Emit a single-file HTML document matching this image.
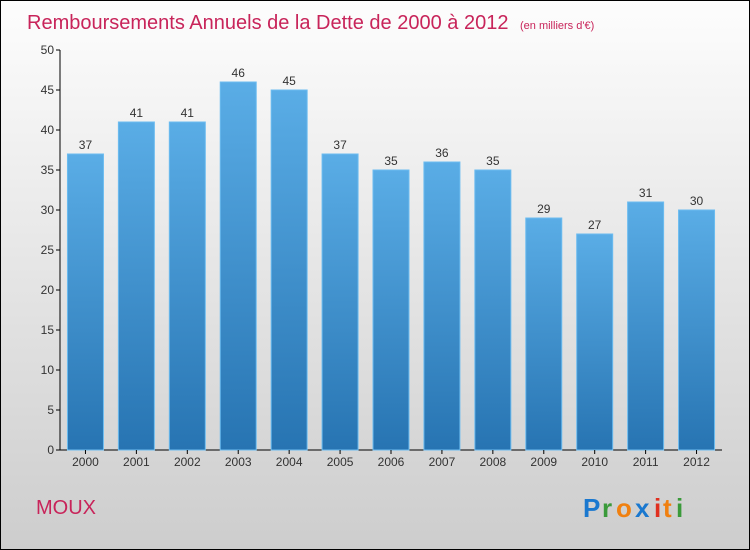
<!DOCTYPE html>
<html><head><meta charset="utf-8"><style>
html,body{margin:0;padding:0}
body{width:750px;height:550px;overflow:hidden;font-family:"Liberation Sans",sans-serif}
#wrap{position:absolute;left:0;top:0;width:748px;height:548px;border:1px solid #000;background:linear-gradient(#fdfdfd,#cdcdcd)}
</style></head><body>
<div id="wrap">
<svg width="750" height="550" style="position:absolute;left:-1px;top:-1px">
<defs><linearGradient id="bg" x1="0" y1="0" x2="0" y2="1"><stop offset="0" stop-color="#5aade6"/><stop offset="1" stop-color="#2774b2"/></linearGradient></defs>
<text x="27" y="29" font-size="20" fill="#c8245a">Remboursements Annuels de la Dette de 2000 à 2012 <tspan font-size="11" dx="6">(en milliers d'€)</tspan></text>
<g id="plot"></g>
<text x="36" y="514" font-size="20" fill="#c8245a">MOUX</text>
<g font-size="26" font-weight="bold">
<text x="583" y="517" fill="#1a78cf">P</text><text x="602" y="517" fill="#3a9a3a">r</text><text x="616" y="517" fill="#f08010">o</text><text x="635" y="517" fill="#1a78cf">x</text><text x="654" y="517" fill="#e03020">i</text><text x="663" y="517" fill="#f08010">t</text><text x="676" y="517" fill="#3a9a3a">i</text></g>
</svg></div>
<script>
const categories=["2000","2001","2002","2003","2004","2005","2006","2007","2008","2009","2010","2011","2012"];
const values=[37,41,41,46,45,37,35,36,35,29,27,31,30];
const yTicks=[0,5,10,15,20,25,30,35,40,45,50];
const NS="http://www.w3.org/2000/svg";
const g=document.getElementById('plot');
const x0=60,x1=722,yTop=50,yBot=450,yMax=50;
const y=v=>yBot-(v/yMax)*(yBot-yTop);
const step=(x1-x0)/categories.length;
const xc=i=>x0+step*(i+0.5);
function mk(t,a){const e=document.createElementNS(NS,t);for(const k in a)e.setAttribute(k,a[k]);g.appendChild(e);return e;}
let ax=mk('line',{x1:x0,y1:yTop,x2:x0,y2:yBot,stroke:'#000'});


let bx=mk('line',{x1:x0,y1:yBot,x2:x1,y2:yBot,stroke:'#000'});


yTicks.forEach(v=>{
 mk('line',{x1:x0-4,y1:y(v),x2:x0,y2:y(v),stroke:'#000'});
 const t=mk('text',{x:x0-6,y:y(v)+4,'text-anchor':'end','font-size':12,fill:'#333'});t.textContent=v;
 
 
});
values.forEach((v,i)=>{
 const r=mk('rect',{x:xc(i)-18,y:y(v),width:36,height:yBot-y(v),fill:'url(#bg)',stroke:'#6cbcf0','stroke-width':1});
 
 
 const t=mk('text',{x:xc(i),y:y(v)-5,'text-anchor':'middle','font-size':12,fill:'#333'});t.textContent=v;
 
 
 mk('line',{x1:xc(i),y1:yBot,x2:xc(i),y2:yBot+4,stroke:'#000'});
 const c=mk('text',{x:xc(i),y:yBot+16,'text-anchor':'middle','font-size':12,fill:'#333'});c.textContent=categories[i];
 
 
});
</script>
</body></html>
